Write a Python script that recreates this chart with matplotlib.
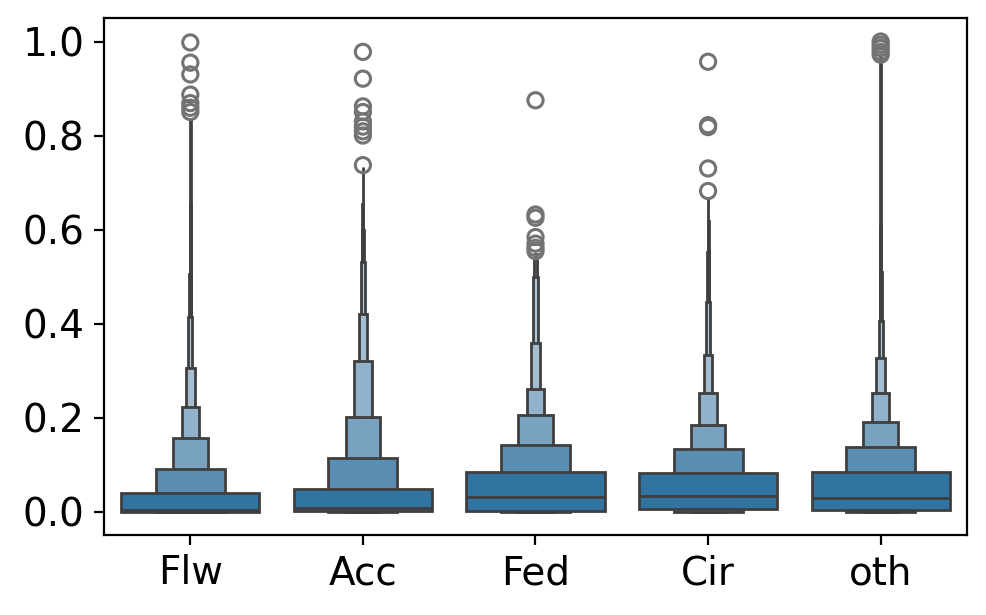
import matplotlib
matplotlib.use("Agg")
import matplotlib.pyplot as plt
from matplotlib.patches import Rectangle
import numpy as np
import seaborn as sns

categories = ["Flw", "Acc", "Fed", "Cir", "oth"]

# Upper letter values, innermost level (75th pct) to outermost
upper_Flw = [0.039, 0.091, 0.156, 0.223, 0.306, 0.414, 0.505, 0.652, 0.834]
upper_Acc = [0.0486, 0.113, 0.202, 0.321, 0.420, 0.530, 0.600, 0.655, 0.733]
upper_Fed = [0.084, 0.141, 0.206, 0.261, 0.359, 0.498, 0.537, 0.543, 0.548]
upper_Cir = [0.081, 0.134, 0.184, 0.252, 0.334, 0.445, 0.552, 0.619, 0.665]
upper_oth = [0.084, 0.138, 0.191, 0.252, 0.327, 0.405, 0.509, 0.605, 0.966]

# Lower letter values, innermost level (25th pct) to outermost
lower_Flw = [0.000, 0.000, 0.000, 0.000, 0.000, 0.000, 0.000, 0.000, 0.000]
lower_Acc = [0.001, 0.000, 0.000, 0.000, 0.000, 0.000, 0.000, 0.000, 0.000]
lower_Fed = [0.002, 0.000, 0.000, 0.000, 0.000, 0.000, 0.000, 0.000, 0.000]
lower_Cir = [0.006, 0.000, 0.000, 0.000, 0.000, 0.000, 0.000, 0.000, 0.000]
lower_oth = [0.003, 0.000, 0.000, 0.000, 0.000, 0.000, 0.000, 0.000, 0.000]

medians = [0.004, 0.008, 0.031, 0.034, 0.029]

fliers_Flw = [0.998, 0.955, 0.930, 0.887, 0.869, 0.859, 0.850]
fliers_Acc = [0.978, 0.921, 0.862, 0.850, 0.830, 0.819, 0.809, 0.800, 0.737]
fliers_Fed = [0.875, 0.632, 0.625, 0.584, 0.570, 0.561, 0.554]
fliers_Cir = [0.957, 0.822, 0.818, 0.730, 0.682]
fliers_oth = [1.000, 0.993, 0.986, 0.978, 0.972]

uppers = [upper_Flw, upper_Acc, upper_Fed, upper_Cir, upper_oth]
lowers = [lower_Flw, lower_Acc, lower_Fed, lower_Cir, lower_oth]
fliers = [fliers_Flw, fliers_Acc, fliers_Fed, fliers_Cir, fliers_oth]

maincolor = "#3274a1"
linecolor = (0.248, 0.248, 0.248)
cmap = sns.light_palette(maincolor, as_cmap=True)

fig = plt.figure(figsize=(4.935, 3.075), dpi=200)
ax = fig.add_axes([0.1054, 0.130, 0.8743, 0.8407])

width = 0.8
for i, cat in enumerate(categories):
    up = uppers[i]
    lo = lowers[i]
    k = len(up)
    for j in range(k - 1, -1, -1):
        w = width * 2.0 ** (-j)
        color = cmap(2.0 ** (-j / 3))
        rect = Rectangle((i - w / 2, lo[j]), w, up[j] - lo[j],
                         facecolor=color, edgecolor=linecolor, linewidth=1.0,
                         zorder=2)
        ax.add_patch(rect)
    ax.plot([i - width / 2, i + width / 2], [medians[i], medians[i]],
            color=linecolor, linewidth=1.0, solid_capstyle="butt", zorder=3)
    ax.scatter(np.full(len(fliers[i]), i), fliers[i], s=30, facecolor="none",
               edgecolor=(0.45, 0.45, 0.45), linewidths=1.1, zorder=3)

ax.set_xlim(-0.5, len(categories) - 0.5)
ax.set_ylim(-0.05, 1.05)
ax.set_xticks(range(len(categories)))
ax.set_xticklabels(categories)
ax.set_yticks([0.0, 0.2, 0.4, 0.6, 0.8, 1.0])
ax.tick_params(labelsize=14)

fig.savefig("out.png", dpi=200)
